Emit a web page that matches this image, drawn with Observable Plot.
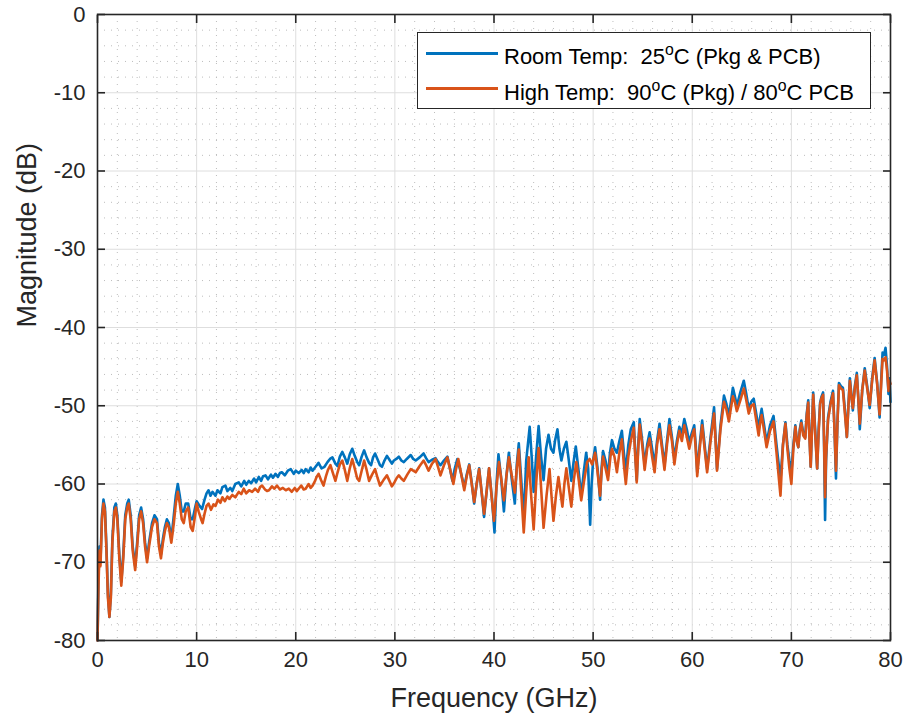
<!DOCTYPE html>
<html><head><meta charset="utf-8">
<script src="https://cdn.jsdelivr.net/npm/d3@7"></script>
<script src="https://cdn.jsdelivr.net/npm/@observablehq/plot@0.6"></script>
<style>
body{margin:0;background:#fff;}
#wrap{position:relative;width:905px;height:716px;font-family:"Liberation Sans",Arial,sans-serif;color:#000;}
#legend{position:absolute;left:417px;top:32px;width:454px;height:77px;border:1px solid #262626;background:#fff;box-sizing:border-box;}
#legend .ln{position:absolute;left:8px;width:72px;height:2.5px;}
#legend .tx{position:absolute;left:86px;font-size:22px;line-height:22px;white-space:pre;}
#legend sup{font-size:0.72em;vertical-align:baseline;position:relative;top:-0.55em;}
</style></head>
<body>
<div id="wrap"></div>
<script>
// x ticks (GHz) and y ticks (dB)
const xTicks = [0, 10, 20, 30, 40, 50, 60, 70, 80];
const yTicks = [-80, -70, -60, -50, -40, -30, -20, -10, 0];

// Room temperature: [frequency GHz, magnitude dB]
const roomTemp = [
[0,-80],[0.1,-72],[0.2,-68],[0.3,-70],[0.45,-64],[0.6,-62],[0.75,-63],[0.9,-68],[1.05,-74],[1.2,-77],[1.35,-74],[1.5,-67],[1.7,-63],[1.85,-62.5],[2,-64],[2.2,-69],[2.4,-72.5],[2.6,-69],[2.8,-64],[3,-62.5],[3.15,-62],[3.35,-64],[3.55,-68],[3.8,-70.5],[4,-67.5],[4.2,-64],[4.4,-63],[4.6,-64.5],[4.8,-67.5],[5,-69.5],[5.2,-67.5],[5.5,-65],[5.75,-64],[6,-64.5],[6.2,-67.5],[6.4,-69],[6.6,-67],[6.8,-65.5],[7,-64.5],[7.2,-65],[7.45,-67],[7.7,-64],[7.9,-61.5],[8.1,-60],[8.3,-61.5],[8.5,-63.5],[8.7,-63.5],[8.9,-62.5],[9.15,-62.5],[9.4,-64.5],[9.6,-64.5],[9.85,-63],
[10,-62.2],[10.3,-62.8],[10.55,-63.2],[10.8,-62],[11,-61.2],[11.2,-60.8],[11.4,-61.5],[11.6,-61],[11.9,-61.5],[12.1,-60.8],[12.4,-61.2],[12.6,-60.4],[12.9,-60.2],[13.1,-60.9],[13.4,-60.5],[13.6,-60.9],[13.9,-60],[14.25,-59.8],[14.5,-60.3],[14.8,-59.6],[15,-60.1],[15.26,-59.6],[15.5,-59.9],[15.8,-59.3],[16,-59.8],[16.27,-59.1],[16.5,-59.6],[16.7,-59],[16.95,-58.9],[17.2,-59.4],[17.5,-58.8],[17.7,-59.2],[17.96,-58.7],[18.2,-59.1],[18.4,-58.6],[18.6,-58.5],[18.9,-58.9],[19.2,-58.3],[19.5,-58.1],[19.8,-58.7],
[20,-58.3],[20.3,-58.6],[20.6,-58.2],[20.8,-58.6],[21,-58.1],[21.3,-58.5],[21.5,-57.9],[21.7,-58.3],[22,-57.8],[22.3,-57.3],[22.6,-58],[22.9,-57.8],[23.2,-57.2],[23.45,-56.8],[23.7,-56.6],[24,-57.4],[24.2,-57.7],[24.45,-56.5],[24.7,-55.9],[24.95,-56.6],[25.2,-57.4],[25.45,-56.2],[25.7,-55.5],[25.95,-56.4],[26.2,-57.2],[26.4,-57.6],[26.65,-56.5],[26.9,-55.7],[27.15,-56.6],[27.4,-57.3],[27.6,-57.6],[27.8,-56.6],[28,-56.1],[28.3,-57],[28.5,-57.6],[28.7,-57.8],[28.95,-57],[29.2,-56.4],[29.45,-56.9],[29.7,-57.4],[29.9,-57],
[30.15,-56.8],[30.4,-56.5],[30.65,-57],[30.9,-57.2],[31.2,-56.8],[31.6,-56.3],[31.85,-56.8],[32.1,-57],[32.5,-56.6],[32.9,-56.1],[33.15,-56.7],[33.4,-57.2],[33.75,-56.9],[34.1,-56.7],[34.35,-57.2],[34.6,-57.6],[34.95,-57],[35.3,-56.5],[35.55,-58],[35.8,-59.6],[36.05,-58],[36.3,-56.8],[36.65,-58.5],[37,-60.4],[37.25,-58.8],[37.5,-57.5],[37.75,-59.8],[38,-62.5],[38.25,-60],[38.5,-58],[38.75,-61],[39,-64.2],[39.25,-61],[39.5,-58],[39.8,-62],
[40.05,-66.2],[40.25,-60],[40.45,-56.2],[40.7,-59],[41,-63.5],[41.25,-59],[41.5,-56],[41.8,-59.5],[42.1,-62.5],[42.3,-57.5],[42.5,-54.8],[42.75,-59.5],[43,-64.5],[43.25,-57],[43.6,-52.7],[43.8,-56.5],[44,-61],[44.25,-56.5],[44.5,-52.6],[44.75,-56.5],[45,-59.5],[45.25,-55.5],[45.5,-53.7],[45.75,-55.5],[46,-56],[46.15,-54.5],[46.4,-53],[46.6,-55.5],[46.8,-57],[47.05,-55.5],[47.3,-54.6],[47.55,-57],[47.8,-59.6],[48.05,-57],[48.25,-55.2],[48.55,-58.5],[48.8,-61.6],[49.05,-58.5],[49.3,-56],[49.5,-58],[49.7,-65.2],[49.85,-60],
[50,-57],[50.2,-55.3],[50.45,-58],[50.7,-62],[50.85,-58],[51,-55.8],[51.25,-57],[51.5,-59],[51.7,-56],[51.9,-54.4],[52.15,-55.5],[52.4,-56],[52.65,-54.5],[52.9,-53.2],[53.1,-56],[53.3,-58.5],[53.55,-55],[53.8,-53],[54.1,-52.1],[54.25,-56],[54.4,-59.5],[54.55,-55],[54.7,-51.7],[54.95,-54.5],[55.2,-57.5],[55.45,-55],[55.7,-53.4],[55.95,-55.5],[56.2,-57.6],[56.45,-54.5],[56.7,-52.3],[56.95,-55],[57.2,-57.6],[57.45,-54.5],[57.7,-51.7],[57.95,-54],[58.2,-56.8],[58.45,-54.5],[58.7,-52.7],[58.95,-53.5],[59.2,-51.7],[59.45,-53],[59.7,-54.7],[59.95,-53.5],
[60.2,-52.5],[60.35,-55],[60.5,-58.5],[60.75,-55],[61,-51.9],[61.25,-55],[61.5,-58.1],[61.85,-54],[62.2,-50.2],[62.35,-54],[62.5,-58.1],[62.85,-52.5],[63.2,-48.7],[63.45,-49.8],[63.7,-51.3],[63.9,-49.5],[64.1,-47.7],[64.3,-48.8],[64.5,-50],[64.85,-48.3],[65.2,-46.8],[65.45,-48.5],[65.7,-50.4],[65.95,-49.5],[66.2,-49.1],[66.45,-51],[66.7,-53],[66.85,-51.5],[67,-50.4],[67.25,-52.5],[67.5,-54.7],[67.85,-52.5],[68.2,-51.3],[68.5,-55],[68.9,-59.5],[69.15,-55],[69.4,-52.1],[69.6,-55],[69.8,-57],
[70,-58.5],[70.2,-55],[70.4,-52.5],[70.55,-54.5],[70.7,-55.3],[70.85,-53],[71,-51.9],[71.2,-53.5],[71.4,-54],[71.55,-51],[71.7,-49.3],[71.8,-53],[71.95,-57.8],[72.1,-52],[72.2,-48.3],[72.4,-53],[72.6,-58],[72.75,-53],[72.9,-49.6],[73.05,-48.8],[73.2,-48.3],[73.3,-55],[73.4,-64.6],[73.5,-57],[73.7,-51.5],[73.95,-49.5],[74.2,-48.1],[74.35,-53],[74.5,-59.3],[74.65,-52],[74.8,-47.1],[75,-47.5],[75.2,-47.7],[75.4,-50.5],[75.6,-54],[75.75,-50],[75.9,-46.5],[76.05,-48.5],[76.2,-50.6],[76.4,-47.5],[76.6,-45.8],[76.75,-49],[76.9,-53],[77.15,-48],[77.4,-45.2],[77.65,-47.5],[77.9,-50.3],[78.15,-46.5],[78.4,-43.9],[78.65,-47],[78.9,-51.5],[79.05,-47],[79.2,-43.2],[79.35,-43.5],[79.5,-42.6],[79.65,-45],[79.8,-48.5],[79.9,-46.5],[80,-49.5]
];

// High temperature: [frequency GHz, magnitude dB]
const highTemp = [
[0,-80],[0.1,-73],[0.2,-68.5],[0.3,-70.5],[0.45,-64.5],[0.6,-62.5],[0.75,-63.5],[0.9,-68.5],[1.05,-74.5],[1.2,-77],[1.35,-74.5],[1.5,-67.5],[1.7,-63.5],[1.85,-63],[2,-64.5],[2.2,-69.5],[2.4,-73],[2.6,-69.5],[2.8,-64.5],[3,-63],[3.15,-62.5],[3.35,-64.5],[3.55,-68.5],[3.8,-71],[4,-68],[4.2,-64.5],[4.4,-63.5],[4.6,-65],[4.8,-68],[5,-70],[5.2,-68],[5.5,-65.5],[5.75,-64.5],[6,-65],[6.2,-68],[6.4,-69.5],[6.6,-67.5],[6.8,-66],[7,-65],[7.2,-65.5],[7.45,-67.5],[7.7,-65],[7.9,-62.5],[8.1,-61],[8.3,-62.5],[8.5,-64.5],[8.7,-65],[8.9,-63.5],[9.15,-63],[9.4,-65.5],[9.6,-66],[9.85,-64],
[10,-62.5],[10.2,-63.5],[10.45,-64.5],[10.6,-65],[10.8,-63.8],[11,-62.8],[11.2,-62.5],[11.45,-63.3],[11.7,-62.6],[11.9,-62.8],[12.15,-62],[12.4,-62.4],[12.6,-61.7],[12.85,-62.2],[13.1,-61.6],[13.3,-61.9],[13.6,-61.4],[13.9,-61.7],[14.25,-61],[14.5,-61.3],[14.75,-60.6],[15,-61.2],[15.3,-60.8],[15.6,-61],[15.9,-60.6],[16.2,-61],[16.4,-60.4],[16.6,-60.2],[16.9,-60.7],[17.1,-60.9],[17.3,-60.8],[17.6,-60.3],[17.85,-60.6],[18.1,-60.2],[18.4,-60.7],[18.7,-60.5],[19,-60.8],[19.3,-60.6],[19.6,-61],[19.9,-60.5],
[20.1,-60.9],[20.3,-60.6],[20.55,-60.2],[20.8,-60.7],[21,-60.6],[21.3,-60],[21.5,-60.5],[21.7,-60.2],[21.95,-59.6],[22.1,-59.1],[22.3,-58.7],[22.55,-59.5],[22.8,-60.2],[23.05,-59],[23.25,-58.2],[23.5,-57.6],[23.75,-58.6],[24,-59.6],[24.2,-58.6],[24.45,-57.5],[24.7,-57],[24.95,-58.2],[25.2,-59.6],[25.45,-58],[25.7,-56.8],[25.95,-58],[26.2,-59.3],[26.4,-59.6],[26.65,-58.3],[26.9,-57],[27.15,-58.2],[27.4,-59.6],[27.7,-58.8],[28,-58.1],[28.25,-59.2],[28.5,-60.2],[28.85,-59.5],[29.2,-58.9],[29.45,-59.6],[29.7,-60.3],
[29.95,-59.8],[30.2,-59.2],[30.4,-58.9],[30.65,-59.3],[30.9,-59.6],[31.25,-58.8],[31.6,-58.1],[31.85,-58.3],[32.1,-58.5],[32.5,-57.7],[32.9,-57],[33.15,-57.6],[33.4,-58.3],[33.75,-57.4],[34.1,-56.8],[34.35,-57.8],[34.6,-58.9],[34.95,-57.6],[35.3,-56.6],[35.6,-58.3],[35.9,-60],[36.15,-58.2],[36.4,-56.8],[36.7,-58.8],[37,-60.8],[37.25,-59],[37.5,-57.6],[37.75,-60],[38,-62.3],[38.25,-60],[38.5,-58.1],[38.75,-61],[39,-63.8],[39.25,-61],[39.5,-58],[39.75,-61.5],
[40,-64.7],[40.25,-60.5],[40.5,-57.2],[40.75,-59.5],[41,-62.1],[41.25,-59],[41.5,-56.6],[41.8,-59],[42.1,-61.1],[42.3,-58],[42.5,-55.6],[42.75,-61],[43,-66.2],[43.25,-61],[43.5,-56.6],[43.75,-61.5],[44,-65.8],[44.25,-60],[44.5,-55.4],[44.75,-60.5],[45,-65.6],[45.3,-61.5],[45.6,-58.1],[45.8,-61.5],[46,-64.7],[46.25,-61.5],[46.5,-59.1],[46.7,-61],[46.9,-62.9],[47.1,-60],[47.3,-58],[47.55,-60.5],[47.8,-62.9],[48.05,-59.5],[48.3,-57.2],[48.55,-59.5],[48.8,-62.1],[49.1,-59.5],[49.4,-57.2],[49.65,-56.8],[49.9,-57.5],
[50.2,-56],[50.45,-58.5],[50.7,-61.5],[50.85,-58.5],[51,-56.5],[51.25,-58],[51.5,-59.5],[51.75,-56.5],[51.9,-55.5],[52.15,-56.5],[52.4,-58.5],[52.65,-56],[52.9,-54.3],[53.1,-57.5],[53.3,-60],[53.55,-56.5],[53.8,-54.5],[54.1,-52.8],[54.25,-56.5],[54.4,-59.8],[54.55,-55.5],[54.7,-52.4],[54.95,-55],[55.2,-58.2],[55.45,-55.5],[55.7,-54.2],[55.95,-56.5],[56.2,-58.5],[56.45,-55],[56.7,-53],[56.95,-55.5],[57.2,-58.2],[57.45,-55],[57.7,-52.5],[57.95,-54.5],[58.2,-57.5],[58.45,-55],[58.7,-53.2],[58.95,-54.5],[59.2,-52.5],[59.45,-54],[59.7,-55.5],[59.95,-54],
[60.2,-53],[60.35,-55.5],[60.5,-59],[60.75,-55.5],[61,-52.5],[61.25,-55.5],[61.5,-58.5],[61.85,-54.5],[62.2,-51],[62.35,-54.5],[62.5,-58.3],[62.85,-53],[63.2,-49.5],[63.45,-50.5],[63.7,-52],[63.9,-50.3],[64.1,-48.8],[64.3,-49.5],[64.5,-50.7],[64.85,-49.3],[65.2,-47.8],[65.45,-49.3],[65.7,-51],[65.95,-50],[66.2,-49.8],[66.45,-51.8],[66.7,-53.8],[66.85,-52.2],[67,-51.2],[67.25,-53.2],[67.5,-55.3],[67.85,-53.2],[68.2,-52],[68.5,-56],[68.9,-61.5],[69.15,-55],[69.4,-52.3],[69.6,-55.5],[69.8,-58],
[70,-60],[70.2,-55.5],[70.4,-52.7],[70.55,-54.5],[70.7,-55.3],[70.85,-53.2],[71,-52.2],[71.2,-53.8],[71.4,-54.2],[71.55,-51.3],[71.7,-49.6],[71.8,-53.5],[71.95,-57.8],[72.1,-52.3],[72.2,-48.6],[72.4,-53.5],[72.6,-58],[72.75,-53.5],[72.9,-49.8],[73.05,-49],[73.2,-48.6],[73.3,-54.5],[73.4,-61.7],[73.5,-56.5],[73.7,-51.8],[73.95,-49.8],[74.2,-48.4],[74.35,-53],[74.5,-58.3],[74.65,-52.2],[74.8,-47.4],[75,-47.8],[75.2,-48],[75.4,-51],[75.6,-54],[75.75,-50.2],[75.9,-46.8],[76.05,-48.8],[76.2,-50.3],[76.4,-47.8],[76.6,-46.1],[76.75,-49],[76.9,-52.3],[77.15,-48],[77.4,-45.5],[77.65,-47.8],[77.9,-49.9],[78.15,-46.8],[78.4,-44.2],[78.65,-47.2],[78.9,-51.1],[79.05,-47.5],[79.2,-44],[79.35,-44.2],[79.5,-43.8],[79.65,-45.5],[79.8,-48.1],[79.9,-46.8],[80,-47.2]
];

const toRows = (arr) => arr.map(([f, db]) => ({f, db}));
const roomRows = toRows(roomTemp);
const highRows = toRows(highTemp);

const xMinor = d3.range(0, 81, 2).filter(v => v % 10 !== 0);
const yMinor = d3.range(-80, 1, 2).filter(v => v % 10 !== 0);

const tickFmt = d => String(d);
const ink = "#262626";

const chart = Plot.plot({
  width: 905,
  height: 716,
  marginLeft: 97,
  marginRight: 15,
  marginTop: 14,
  marginBottom: 76,
  x: {domain: [0, 80]},
  y: {domain: [-80, 0]},
  style: {fontFamily: '"Liberation Sans", Arial, sans-serif', background: "#fff", color: ink, overflow: "visible"},
  marks: [
    Plot.ruleX(xMinor, {stroke: "#bdbdbd", strokeDasharray: "1,6", strokeWidth: 1}),
    Plot.ruleY(yMinor, {stroke: "#bdbdbd", strokeDasharray: "1,6", strokeWidth: 1}),
    Plot.ruleX(xTicks, {stroke: "#dedede", strokeWidth: 1}),
    Plot.ruleY(yTicks, {stroke: "#dedede", strokeWidth: 1}),
    Plot.line(roomRows, {x: "f", y: "db", stroke: "#0072BD", strokeWidth: 2.6, strokeLinejoin: "round"}),
    Plot.line(highRows, {x: "f", y: "db", stroke: "#D95319", strokeWidth: 2.6, strokeLinejoin: "round"}),
    Plot.frame({stroke: ink, strokeWidth: 1.6}),
    Plot.axisX(xTicks, {anchor: "bottom", tickSize: -8, tickPadding: 19, fontSize: 22, tickFormat: tickFmt, label: null, color: ink, strokeWidth: 1.6}),
    Plot.axisX(xTicks, {anchor: "top", tickSize: -8, tickFormat: () => "", label: null, color: ink, strokeWidth: 1.6}),
    Plot.axisY(yTicks, {anchor: "left", tickSize: -8, tickPadding: 20, fontSize: 22, tickFormat: tickFmt, label: null, color: ink, strokeWidth: 1.6}),
    Plot.axisY(yTicks, {anchor: "right", tickSize: -8, tickFormat: () => "", label: null, color: ink, strokeWidth: 1.6}),
    Plot.text(["Frequency (GHz)"], {frameAnchor: "bottom", dy: 58, fontSize: 27, fill: ink, lineAnchor: "middle"}),
    Plot.text(["Magnitude (dB)"], {frameAnchor: "left", dx: -70, rotate: -90, fontSize: 27, fill: ink, lineAnchor: "middle"})
  ]
});

const wrap = document.getElementById("wrap");
wrap.appendChild(chart);

const legend = document.createElement("div");
legend.id = "legend";
legend.innerHTML =
  '<div class="ln" style="top:19px;background:#0072BD"></div>' +
  '<div class="tx" style="top:13px">Room Temp:  25<sup>o</sup>C (Pkg &amp; PCB)</div>' +
  '<div class="ln" style="top:54px;background:#D95319"></div>' +
  '<div class="tx" style="top:49px">High Temp:  90<sup>o</sup>C (Pkg) / 80<sup>o</sup>C PCB</div>';
wrap.appendChild(legend);
</script>
</body></html>
